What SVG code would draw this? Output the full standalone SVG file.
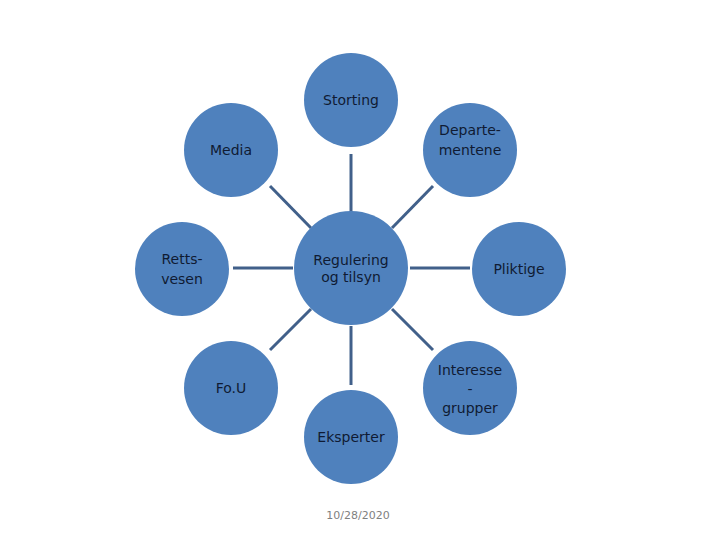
<svg xmlns="http://www.w3.org/2000/svg" width="720" height="540" viewBox="0 0 720 540">
<style>
.n{fill:#4f81bd}
.t{font-family:"DejaVu Sans",Verdana,sans-serif;font-size:14px;fill:#0f1b33;text-anchor:middle}
.l{stroke:#41608a;stroke-width:3;fill:none}
.d{font-family:"DejaVu Sans",Verdana,sans-serif;font-size:11px;fill:#7f7f7f;text-anchor:middle}
</style>
<rect width="720" height="540" fill="#ffffff"/>
<g id="connectors">
<line class="l" x1="351" y1="212" x2="351" y2="154"/>
<line class="l" x1="351" y1="326" x2="351" y2="385"/>
<line class="l" x1="293" y1="268" x2="233" y2="268"/>
<line class="l" x1="410" y1="268" x2="470" y2="268"/>
<line class="l" x1="311" y1="228" x2="270" y2="186"/>
<line class="l" x1="392" y1="228" x2="433" y2="186"/>
<line class="l" x1="311" y1="309" x2="270" y2="350"/>
<line class="l" x1="392" y1="309" x2="433" y2="350"/>
</g>
<g id="center"><circle class="n" cx="351" cy="268" r="57"/><text class="t" x="351" y="265">Regulering</text><text class="t" x="351" y="282">og tilsyn</text></g>
<g id="storting"><circle class="n" cx="351" cy="100" r="47"/><text class="t" x="351" y="105">Storting</text></g>
<g id="departementene"><circle class="n" cx="470" cy="150" r="47"/><text class="t" x="470" y="135">Departe-</text><text class="t" x="470" y="155">mentene</text></g>
<g id="pliktige"><circle class="n" cx="519" cy="269" r="47"/><text class="t" x="519" y="274">Pliktige</text></g>
<g id="interesse"><circle class="n" cx="470" cy="388" r="47"/><text class="t" x="470" y="375">Interesse</text><text class="t" x="470" y="394">-</text><text class="t" x="470" y="413">grupper</text></g>
<g id="eksperter"><circle class="n" cx="351" cy="437" r="47"/><text class="t" x="351" y="442">Eksperter</text></g>
<g id="fou"><circle class="n" cx="231" cy="388" r="47"/><text class="t" x="231" y="393">Fo.U</text></g>
<g id="rettsvesen"><circle class="n" cx="182" cy="269" r="47"/><text class="t" x="182" y="264">Retts-</text><text class="t" x="182" y="284">vesen</text></g>
<g id="media"><circle class="n" cx="231" cy="150" r="47"/><text class="t" x="231" y="155">Media</text></g>
<text class="d" x="358" y="519">10/28/2020</text>
</svg>
